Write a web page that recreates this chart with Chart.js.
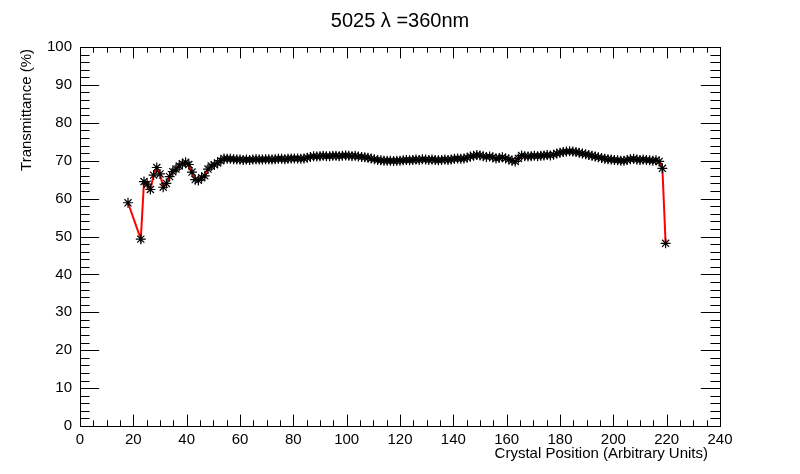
<!DOCTYPE html>
<html lang="en">
<head>
    <meta charset="UTF-8">
    <title>5025 Transmittance</title>
    <style>
        body { margin: 0; background: #fff; }
        #chart { display: block; }
    </style>
</head>
<body>
    <canvas id="chart" width="800" height="474"></canvas>

    <script src="https://cdn.jsdelivr.net/npm/chart.js@4.4.9/dist/chart.umd.min.js"></script>
    <script>
        // crystal position of each scan point
        const positions = [
            18.0, 22.8, 24.0, 25.2, 26.4, 27.6, 28.8, 30.0, 31.2, 32.4, 33.6, 34.8, 36.0, 37.2,
            38.4, 39.6, 40.8, 42.0, 43.2, 44.4, 45.6, 46.8, 48.0, 49.2, 50.4, 51.6, 52.8, 54.0,
            55.2, 56.4, 57.6, 58.8, 60.0, 61.2, 62.4, 63.6, 64.8, 66.0, 67.2, 68.4, 69.6, 70.8,
            72.0, 73.2, 74.4, 75.6, 76.8, 78.0, 79.2, 80.4, 81.6, 82.8, 84.0, 85.2, 86.4, 87.6,
            88.8, 90.0, 91.2, 92.4, 93.6, 94.8, 96.0, 97.2, 98.4, 99.6, 100.8, 102.0, 103.2, 104.4,
            105.6, 106.8, 108.0, 109.2, 110.4, 111.6, 112.8, 114.0, 115.2, 116.4, 117.6, 118.8, 120.0, 121.2,
            122.4, 123.6, 124.8, 126.0, 127.2, 128.4, 129.6, 130.8, 132.0, 133.2, 134.4, 135.6, 136.8, 138.0,
            139.2, 140.4, 141.6, 142.8, 144.0, 145.2, 146.4, 147.6, 148.8, 150.0, 151.2, 152.4, 153.6, 154.8,
            156.0, 157.2, 158.4, 159.6, 160.8, 162.0, 163.2, 164.4, 165.6, 166.8, 168.0, 169.2, 170.4, 171.6,
            172.8, 174.0, 175.2, 176.4, 177.6, 178.8, 180.0, 181.2, 182.4, 183.6, 184.8, 186.0, 187.2, 188.4,
            189.6, 190.8, 192.0, 193.2, 194.4, 195.6, 196.8, 198.0, 199.2, 200.4, 201.6, 202.8, 204.0, 205.2,
            206.4, 207.6, 208.8, 210.0, 211.2, 212.4, 213.6, 214.8, 216.0, 217.2, 218.4, 219.6
        ];

        // transmittance (%) read at each position
        const transmittance = [
            58.9, 49.3, 64.5, 63.8, 62.4, 66.2, 68.2, 66.5, 63.0, 64.0, 65.8, 67.1, 67.8, 68.6,
            69.2, 69.6, 69.0, 67.0, 65.0, 64.8, 65.5, 66.0, 67.8, 68.6, 68.9, 69.4, 70.0, 70.6,
            70.5, 70.5, 70.4, 70.3, 70.3, 70.2, 70.3, 70.2, 70.3, 70.4, 70.3, 70.3, 70.4, 70.4,
            70.3, 70.4, 70.5, 70.5, 70.4, 70.5, 70.6, 70.6, 70.6, 70.5, 70.6, 70.8, 71.0, 71.2,
            71.1, 71.2, 71.3, 71.2, 71.2, 71.3, 71.3, 71.2, 71.3, 71.4, 71.3, 71.2, 71.3, 71.1,
            71.0, 70.9, 70.8, 70.6, 70.4, 70.2, 70.1, 70.0, 70.0, 70.0, 69.9, 70.0, 70.0, 70.1,
            70.2, 70.1, 70.2, 70.3, 70.2, 70.4, 70.3, 70.2, 70.3, 70.2, 70.1, 70.2, 70.3, 70.2,
            70.3, 70.5, 70.6, 70.5, 70.6, 70.8, 71.1, 71.3, 71.5, 71.4, 71.2, 71.0, 71.1, 70.9,
            70.6, 70.7, 70.9, 70.6, 70.4, 70.0, 69.8, 70.6, 71.4, 71.2, 71.1, 71.2, 71.3, 71.2,
            71.3, 71.4, 71.5, 71.4, 71.6, 71.9, 72.1, 72.3, 72.4, 72.5, 72.4, 72.3, 72.1, 71.9,
            71.7, 71.5, 71.3, 71.1, 70.9, 70.7, 70.5, 70.4, 70.3, 70.2, 70.1, 70.0, 70.0, 70.2,
            70.4, 70.5, 70.3, 70.2, 70.3, 70.2, 70.1, 70.0, 70.1, 69.8, 68.0, 48.2
        ];

        const xTicks = [0, 20, 40, 60, 80, 100, 120, 140, 160, 180, 200, 220, 240];
        const yTicks = [0, 10, 20, 30, 40, 50, 60, 70, 80, 90, 100];

        const titleText = '5025 \u03bb =360nm';
        const xTitle = 'Crystal Position (Arbitrary Units)';
        const yTitle = 'Transmittance (%)';

        const FONT = '"Liberation Sans", Arial, Helvetica, sans-serif';

        // ROOT style frame: box with major/minor ticks on all four sides
        const rootFrame = {
            id: 'rootFrame',
            afterDatasetsDraw(chart) {
                const { ctx, chartArea: a, scales } = chart;
                const xs = scales.x, ys = scales.y;
                const w = a.right - a.left, h = a.bottom - a.top;
                const xMajor = h * 0.03, yMajor = w * 0.03;

                ctx.save();
                ctx.strokeStyle = '#000';
                ctx.lineWidth = 1;
                ctx.strokeRect(Math.round(a.left) + 0.5, Math.round(a.top) + 0.5,
                    Math.round(w), Math.round(h));

                ctx.beginPath();
                for (let i = 0; i < xTicks.length; i++) {
                    const px = Math.round(xs.getPixelForValue(xTicks[i])) + 0.5;
                    ctx.moveTo(px, a.bottom); ctx.lineTo(px, a.bottom - xMajor);
                    ctx.moveTo(px, a.top); ctx.lineTo(px, a.top + xMajor);
                    if (i < xTicks.length - 1) {
                        const step = (xTicks[i + 1] - xTicks[i]) / 4;
                        for (let k = 1; k < 4; k++) {
                            const mx = Math.round(xs.getPixelForValue(xTicks[i] + k * step)) + 0.5;
                            ctx.moveTo(mx, a.bottom); ctx.lineTo(mx, a.bottom - xMajor / 2);
                            ctx.moveTo(mx, a.top); ctx.lineTo(mx, a.top + xMajor / 2);
                        }
                    }
                }
                for (let i = 0; i < yTicks.length; i++) {
                    const py = Math.round(ys.getPixelForValue(yTicks[i])) + 0.5;
                    ctx.moveTo(a.left, py); ctx.lineTo(a.left + yMajor, py);
                    ctx.moveTo(a.right, py); ctx.lineTo(a.right - yMajor, py);
                    if (i < yTicks.length - 1) {
                        const step = (yTicks[i + 1] - yTicks[i]) / 5;
                        for (let k = 1; k < 5; k++) {
                            const my = Math.round(ys.getPixelForValue(yTicks[i] + k * step)) + 0.5;
                            ctx.moveTo(a.left, my); ctx.lineTo(a.left + yMajor / 2, my);
                            ctx.moveTo(a.right, my); ctx.lineTo(a.right - yMajor / 2, my);
                        }
                    }
                }
                ctx.stroke();
                ctx.restore();
            },
            afterDraw(chart) {
                const { ctx } = chart;
                ctx.save();
                ctx.fillStyle = '#000';

                ctx.font = '20px ' + FONT;
                ctx.textAlign = 'center';
                ctx.textBaseline = 'middle';
                ctx.fillText(titleText, 400, 21);

                ctx.font = '15px ' + FONT;
                ctx.textAlign = 'right';
                ctx.fillText(xTitle, 708, 454);

                ctx.translate(27, 49);
                ctx.rotate(-Math.PI / 2);
                ctx.textAlign = 'right';
                ctx.fillText(yTitle, 0, 0);
                ctx.restore();
            }
        };

        const points = positions.map((p, i) => ({ x: p, y: transmittance[i] }));

        new Chart(document.getElementById('chart'), {
            type: 'scatter',
            data: {
                datasets: [{
                    data: points,
                    showLine: true,
                    borderColor: '#ff0000',
                    borderWidth: 2,
                    tension: 0,
                    pointStyle: 'star',
                    pointRadius: 5,
                    pointBorderColor: '#000',
                    pointBackgroundColor: '#000',
                    pointBorderWidth: 1.2
                }]
            },
            options: {
                responsive: false,
                animation: false,
                layout: { padding: { left: 0, right: 80, top: 47, bottom: 0 } },
                plugins: {
                    legend: { display: false },
                    tooltip: { enabled: false },
                    title: { display: false }
                },
                scales: {
                    x: {
                        type: 'linear',
                        min: 0,
                        max: 240,
                        grid: { display: false, drawTicks: false },
                        border: { display: false },
                        afterFit(s) { s.height = 48; },
                        afterBuildTicks(s) { s.ticks = xTicks.map(v => ({ value: v })); },
                        ticks: {
                            padding: 5,
                            maxRotation: 0,
                            autoSkip: false,
                            color: '#000',
                            font: { family: FONT, size: 15 }
                        }
                    },
                    y: {
                        type: 'linear',
                        min: 0,
                        max: 100,
                        grid: { display: false, drawTicks: false },
                        border: { display: false },
                        afterFit(s) { s.width = 80; },
                        afterBuildTicks(s) { s.ticks = yTicks.map(v => ({ value: v })); },
                        ticks: {
                            padding: 8,
                            autoSkip: false,
                            color: '#000',
                            font: { family: FONT, size: 15 }
                        }
                    }
                }
            },
            plugins: [rootFrame]
        });
    </script>
</body>
</html>
